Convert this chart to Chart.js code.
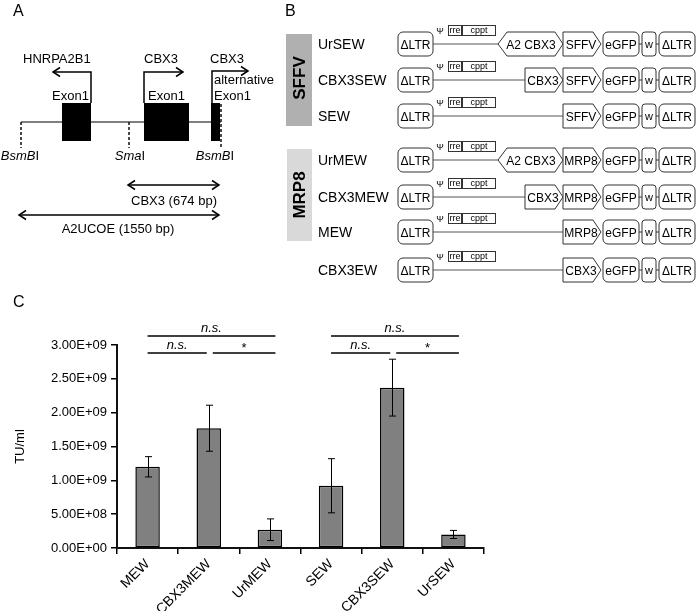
<!DOCTYPE html>
<html lang="en">
<head>
<meta charset="UTF-8">
<title>Vector titers</title>
<script src="https://cdn.jsdelivr.net/npm/chart.js"></script>
<style>
  html, body { margin: 0; padding: 0; background: #fff; }
  #wrap { position: relative; width: 697px; height: 611px; }
</style>
</head>
<body>
<div id="wrap"><canvas id="titerChart" width="697" height="611"></canvas></div>
<script>
// chart data (panel C)
const vectors = ['MEW', 'CBX3MEW', 'UrMEW', 'SEW', 'CBX3SEW', 'UrSEW'];
const titerMeans = [1.20e9, 1.77e9, 0.27e9, 0.92e9, 2.37e9, 0.20e9];
const titerErrors = [0.15e9, 0.34e9, 0.16e9, 0.40e9, 0.42e9, 0.06e9];
const yTicks = [0, 5e8, 1e9, 1.5e9, 2e9, 2.5e9, 3e9];
// significance brackets: from bar, to bar, label, level (0 = lower)
const sigFrom = [0, 1, 0, 3, 4, 3];
const sigTo = [1, 2, 2, 4, 5, 5];
const sigLabel = ['n.s.', '*', 'n.s.', 'n.s.', '*', 'n.s.'];
const sigLevel = [0, 0, 1, 0, 0, 1];

// construct rows for panel B
const constructNames = ['UrSEW', 'CBX3SEW', 'SEW', 'UrMEW', 'CBX3MEW', 'MEW', 'CBX3EW'];
const constructUcoe = ['A2 CBX3', 'CBX3', null, 'A2 CBX3', 'CBX3', null, null];
const constructPromoter = ['SFFV', 'SFFV', 'SFFV', 'MRP8', 'MRP8', 'MRP8', 'CBX3'];
const rowY = [44, 80, 116, 160, 197, 232, 270];

const FONT = '"Liberation Sans", Arial, Helvetica, sans-serif';
const f = (size, style) => (style || '') + ' ' + size + 'px ' + FONT;

function sci(v) {
  const parts = Number(v).toExponential(2).split('e');
  const n = parseInt(parts[1], 10);
  return parts[0] + 'E' + (n < 0 ? '-' : '+') + String(Math.abs(n)).padStart(2, '0');
}

function text(ctx, s, x, y, size, align, style) {
  ctx.font = f(size, style);
  ctx.textAlign = align || 'left';
  ctx.textBaseline = 'alphabetic';
  ctx.fillStyle = '#000';
  ctx.fillText(s, x, y);
}

// draws e.g. BsmBI with italic "BsmB" and upright "I", centred at cx
function enzyme(ctx, italicPart, plainPart, cx, y, size) {
  ctx.font = f(size, 'italic');
  const w1 = ctx.measureText(italicPart).width;
  ctx.font = f(size);
  const w2 = ctx.measureText(plainPart).width;
  const x0 = cx - (w1 + w2) / 2;
  text(ctx, italicPart, x0, y, size, 'left', 'italic');
  text(ctx, plainPart, x0 + w1, y, size, 'left');
}

function arrowHead(ctx, x, y, dir) {
  ctx.beginPath();
  ctx.moveTo(x - dir * 7, y - 4.5);
  ctx.lineTo(x, y);
  ctx.lineTo(x - dir * 7, y + 4.5);
  ctx.stroke();
}

function line(ctx, x1, y1, x2, y2) {
  ctx.beginPath();
  ctx.moveTo(x1, y1);
  ctx.lineTo(x2, y2);
  ctx.stroke();
}

function roundBox(ctx, x, y, w, h, r) {
  ctx.beginPath();
  ctx.roundRect(x, y, w, h, r);
  ctx.fillStyle = '#fff';
  ctx.fill();
  ctx.stroke();
}

function poly(ctx, pts) {
  ctx.beginPath();
  ctx.moveTo(pts[0][0], pts[0][1]);
  for (let i = 1; i < pts.length; i++) ctx.lineTo(pts[i][0], pts[i][1]);
  ctx.closePath();
  ctx.fillStyle = '#fff';
  ctx.fill();
  ctx.stroke();
}

function drawPanelA(ctx) {
  text(ctx, 'A', 13, 16, 16);
  // backbone
  ctx.strokeStyle = '#555';
  ctx.lineWidth = 1.5;
  line(ctx, 21, 122, 221, 122);
  // exons
  ctx.fillStyle = '#000';
  ctx.fillRect(62, 103, 29, 38);
  ctx.fillRect(144, 103, 45, 38);
  ctx.fillRect(211, 103, 9, 38);
  // restriction sites
  ctx.strokeStyle = '#111';
  ctx.setLineDash([3, 2]);
  line(ctx, 21, 122, 21, 148);
  line(ctx, 129, 122, 129, 148);
  line(ctx, 221, 104, 221, 148);
  ctx.setLineDash([]);
  // transcription start arrows
  ctx.strokeStyle = '#000';
  ctx.lineWidth = 1.5;
  ctx.beginPath(); ctx.moveTo(91, 103); ctx.lineTo(91, 72); ctx.lineTo(53, 72); ctx.stroke();
  arrowHead(ctx, 53, 72, -1);
  ctx.beginPath(); ctx.moveTo(144, 103); ctx.lineTo(144, 72); ctx.lineTo(183, 72); ctx.stroke();
  arrowHead(ctx, 183, 72, 1);
  ctx.beginPath(); ctx.moveTo(212, 103); ctx.lineTo(212, 71); ctx.lineTo(248, 71); ctx.stroke();
  arrowHead(ctx, 248, 71, 1);
  text(ctx, 'HNRPA2B1', 23, 63, 13);
  text(ctx, 'CBX3', 144, 63, 13);
  text(ctx, 'CBX3', 210, 63, 13);
  text(ctx, 'Exon1', 52, 100, 13);
  text(ctx, 'Exon1', 148, 100, 13);
  text(ctx, 'alternative', 214, 84, 13);
  text(ctx, 'Exon1', 214, 100, 13);
  enzyme(ctx, 'BsmB', 'I', 20, 160, 13);
  enzyme(ctx, 'Sma', 'I', 130, 160, 13);
  enzyme(ctx, 'BsmB', 'I', 215, 160, 13);
  // fragment lengths
  line(ctx, 128, 185, 219, 185);
  arrowHead(ctx, 128, 185, -1);
  arrowHead(ctx, 219, 185, 1);
  text(ctx, 'CBX3 (674 bp)', 174, 205, 13, 'center');
  line(ctx, 19, 215, 219, 215);
  arrowHead(ctx, 19, 215, -1);
  arrowHead(ctx, 219, 215, 1);
  text(ctx, 'A2UCOE (1550 bp)', 118, 233, 13, 'center');
}

function drawPanelB(ctx) {
  text(ctx, 'B', 285, 16, 16);
  ctx.fillStyle = '#b0b0b0';
  ctx.fillRect(286, 34, 26, 92);
  ctx.fillStyle = '#d9d9d9';
  ctx.fillRect(287, 149, 25, 92);
  ctx.save();
  ctx.translate(305, 78); ctx.rotate(-Math.PI / 2);
  text(ctx, 'SFFV', 0, 0, 17, 'center', 'bold');
  ctx.restore();
  ctx.save();
  ctx.translate(305, 195); ctx.rotate(-Math.PI / 2);
  text(ctx, 'MRP8', 0, 0, 17, 'center', 'bold');
  ctx.restore();

  const h = 12;
  for (let i = 0; i < constructNames.length; i++) {
    const c = rowY[i];
    text(ctx, constructNames[i], 318, c + 5, 14);
    ctx.lineWidth = 1;
    const ucoe = constructUcoe[i];
    const start = ucoe === 'A2 CBX3' ? 498 : (ucoe === 'CBX3' ? 525 : 563);
    ctx.strokeStyle = '#555';
    line(ctx, 433, c, start, c);
    ctx.strokeStyle = '#333';
    roundBox(ctx, 398, c - h, 35, 2 * h, 5);
    text(ctx, '\u0394LTR', 415.5, c + 4.5, 12, 'center');
    text(ctx, '\u03A8', 440, c - 10, 9, 'center');
    ctx.strokeRect(448.5, c - 18.5, 13, 10);
    ctx.strokeRect(462.5, c - 18.5, 33, 10);
    text(ctx, 'rre', 455, c - 11, 9, 'center');
    text(ctx, 'cppt', 479, c - 11, 9, 'center');
    if (ucoe === 'A2 CBX3') {
      poly(ctx, [[498, c], [507, c - h], [555, c - h], [563, c], [555, c + h], [507, c + h]]);
      text(ctx, 'A2 CBX3', 531, c + 4.5, 12, 'center');
    } else if (ucoe === 'CBX3') {
      poly(ctx, [[525, c - h], [555, c - h], [563, c], [555, c + h], [525, c + h]]);
      text(ctx, 'CBX3', 543, c + 4.5, 12, 'center');
    }
    poly(ctx, [[563, c - h], [593, c - h], [601, c], [593, c + h], [563, c + h]]);
    text(ctx, constructPromoter[i], 581, c + 4.5, 12, 'center');
    line(ctx, 639, c, 659, c);
    roundBox(ctx, 603, c - h, 36, 2 * h, 5);
    text(ctx, 'eGFP', 621, c + 4.5, 12, 'center');
    roundBox(ctx, 642, c - h, 14, 2 * h, 3);
    text(ctx, 'w', 649, c + 4, 11, 'center');
    roundBox(ctx, 659, c - h, 36, 2 * h, 5);
    text(ctx, '\u0394LTR', 677, c + 4.5, 12, 'center');
  }
}

const diagramPlugin = {
  id: 'diagrams',
  afterDraw(chart) {
    const ctx = chart.ctx;
    ctx.save();
    drawPanelA(ctx);
    drawPanelB(ctx);
    text(ctx, 'C', 13, 307, 16);
    ctx.restore();
  }
};

const errorBarPlugin = {
  id: 'errorBars',
  afterDatasetsDraw(chart) {
    const ctx = chart.ctx;
    const y = chart.scales.y;
    const meta = chart.getDatasetMeta(0);
    ctx.save();
    ctx.strokeStyle = '#000';
    ctx.lineWidth = 1;
    meta.data.forEach((bar, i) => {
      const x = Math.round(bar.x) + 0.5;
      const top = y.getPixelForValue(titerMeans[i] + titerErrors[i]);
      const bottom = y.getPixelForValue(titerMeans[i] - titerErrors[i]);
      line(ctx, x, top, x, bottom);
      line(ctx, x - 3.5, top, x + 3.5, top);
      line(ctx, x - 3.5, bottom, x + 3.5, bottom);
    });
    ctx.restore();
  }
};

const sigPlugin = {
  id: 'significance',
  afterDraw(chart) {
    const ctx = chart.ctx;
    const x = chart.scales.x;
    const levelY = [353, 336];
    ctx.save();
    ctx.strokeStyle = '#000';
    ctx.lineWidth = 1.5;
    for (let k = 0; k < sigFrom.length; k++) {
      const a = sigFrom[k], b = sigTo[k];
      const x1 = x.getPixelForValue(a) + (a % 3 === 1 ? 4 : 0);
      const x2 = x.getPixelForValue(b) + (b % 3 === 1 ? -2 : 5.5);
      const yy = levelY[sigLevel[k]];
      line(ctx, x1, yy, x2, yy);
      const mid = (x1 + x2) / 2;
      if (sigLabel[k] === '*') {
        text(ctx, '*', mid, yy - 1, 13, 'center');
      } else {
        text(ctx, sigLabel[k], mid, yy - 4, 13, 'center', 'italic');
      }
    }
    ctx.restore();
  }
};

Chart.defaults.font.family = FONT;
Chart.defaults.color = '#000';

new Chart(document.getElementById('titerChart'), {
  type: 'bar',
  data: {
    labels: vectors,
    datasets: [{
      data: titerMeans,
      backgroundColor: '#808080',
      borderColor: '#000',
      borderWidth: 1.5,
      borderSkipped: false,
      barPercentage: 0.4,
      categoryPercentage: 1
    }]
  },
  options: {
    responsive: false,
    animation: false,
    devicePixelRatio: 1,
    layout: { padding: { top: 345, right: 213, left: 0, bottom: 0 } },
    plugins: { legend: { display: false }, tooltip: { enabled: false } },
    scales: {
      x: {
        grid: { drawOnChartArea: false, tickLength: 6, color: '#000', lineWidth: 1.5 },
        border: { color: '#111', width: 2 },
        ticks: { color: '#000', font: { size: 14 }, minRotation: 45, maxRotation: 45, autoSkip: false, padding: 2 },
        afterFit: s => { s.height = 63; }
      },
      y: {
        min: 0,
        max: 3e9,
        afterBuildTicks: s => { s.ticks = yTicks.map(v => ({ value: v })); },
        grid: { drawOnChartArea: false, tickLength: 6, color: '#000', lineWidth: 1.5 },
        border: { color: '#111', width: 2 },
        ticks: { color: '#000', font: { size: 13 }, padding: 4, callback: v => sci(v) },
        title: { display: true, text: 'TU/ml', color: '#000', font: { size: 13 }, padding: { top: 13, bottom: 0 } },
        afterFit: s => { s.width = 117; }
      }
    }
  },
  plugins: [errorBarPlugin, sigPlugin, diagramPlugin]
});
</script>
</body>
</html>
